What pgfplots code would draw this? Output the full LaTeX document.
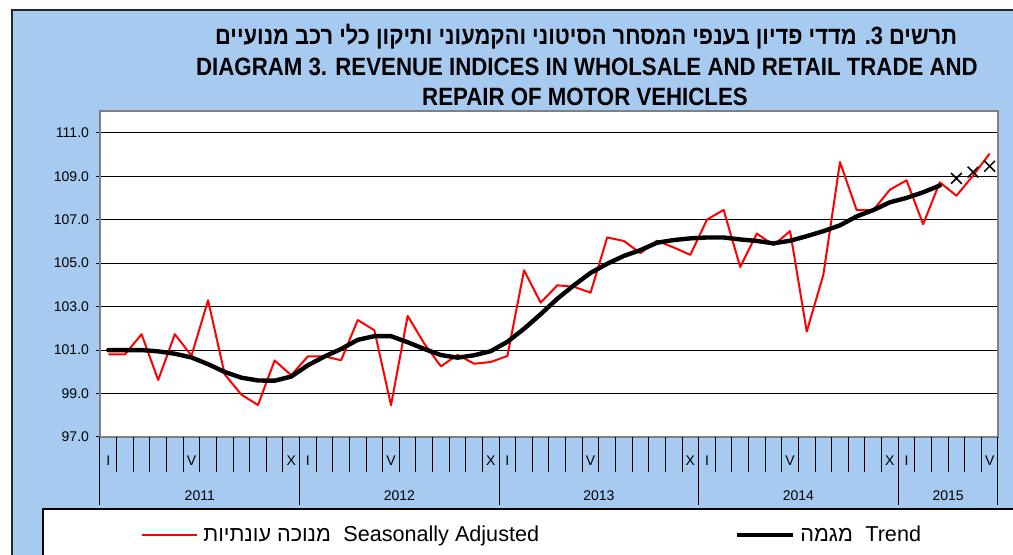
\documentclass[border=0pt]{standalone}
\usepackage{pgfplots}
\usepackage{pgfplotstable}
\pgfplotsset{compat=1.18}
\usepackage{fontspec}
\setmainfont{Liberation Sans}
\newfontfamily\hebfont[Script=Hebrew]{Liberation Sans}
\newfontfamily\titleheb[Script=Hebrew,FakeStretch=0.875]{Liberation Sans}
\newfontfamily\titlelat[FakeStretch=0.89]{Liberation Sans}
\TeXXeTstate=1
\definecolor{bgblue}{RGB}{166,202,240}

\pgfplotstableread{
x y
1 100.80
2 100.80
3 101.73
4 99.62
5 101.73
6 100.74
7 103.29
8 99.88
9 98.95
10 98.47
11 100.52
12 99.84
13 100.71
14 100.71
15 100.53
16 102.38
17 101.91
18 98.46
19 102.57
20 101.30
21 100.25
22 100.78
23 100.37
24 100.45
25 100.73
26 104.67
27 103.18
28 103.98
29 103.91
30 103.64
31 106.18
32 106.02
33 105.46
34 106.03
35 105.72
36 105.38
37 107.00
38 107.45
39 104.82
40 106.36
41 105.83
42 106.47
43 101.85
44 104.47
45 109.65
46 107.44
47 107.44
48 108.38
49 108.81
50 106.79
51 108.72
52 108.10
53 109.03
54 110.04
}\seasadj

\pgfplotstableread{
x y
1 101.00
2 101.00
3 101.00
4 100.94
5 100.83
6 100.66
7 100.35
8 99.99
9 99.73
10 99.60
11 99.59
12 99.78
13 100.30
14 100.70
15 101.05
16 101.47
17 101.64
18 101.64
19 101.36
20 101.05
21 100.77
22 100.65
23 100.76
24 100.95
25 101.38
26 101.98
27 102.65
28 103.36
29 103.98
30 104.55
31 104.97
32 105.33
33 105.60
34 105.94
35 106.06
36 106.14
37 106.18
38 106.18
39 106.09
40 106.02
41 105.91
42 106.03
43 106.24
44 106.47
45 106.74
46 107.15
47 107.44
48 107.80
49 108.00
50 108.26
51 108.57
}\trend

\pgfplotstableread{
x y
52 108.90
53 109.19
54 109.46
}\trendfc

\begin{document}
\begin{tikzpicture}[x=0.5pt,y=0.5pt]
\useasboundingbox (0,0) rectangle (1013,555);
% chart background
\fill[bgblue] (12,0) rectangle (1013,545);
\draw[line width=0.8pt, black!85] (12,0) -- (12,545) -- (1013,545);
% legend box
\fill[white] (43,0) rectangle (1013,46);
\draw[line width=0.6pt, black] (43,0) -- (43,46) -- (1013,46);

% titles
\node[anchor=base, inner sep=0pt, font=\titleheb\bfseries\fontsize{12.5}{14}\selectfont] at (586,510)
  {\beginR תרשים \beginL3\endL. מדדי פדיון בענפי המסחר הסיטוני והקמעוני ותיקון כלי רכב מנועיים\endR};
\node[anchor=base, inner sep=0pt, font=\titlelat\bfseries\fontsize{12.5}{14}\selectfont] at (587,479)
  {DIAGRAM 3. REVENUE INDICES IN WHOLSALE AND RETAIL TRADE AND};
\node[anchor=base, inner sep=0pt, font=\titlelat\bfseries\fontsize{12.5}{14}\selectfont] at (585,449)
  {REPAIR OF MOTOR VEHICLES};

% legend
\draw[red, line width=1pt] (142,20) -- (197,20);
\node[anchor=base west, inner sep=0pt, font=\hebfont\fontsize{10.8}{12}\selectfont] at (203,13)
  {\beginR מנוכה עונתיות\endR};
\node[anchor=base west, inner sep=0pt, font=\fontsize{10.8}{12}\selectfont] at (343,13)
  {Seasonally Adjusted};
\draw[black, line width=2.2pt] (737,20) -- (793,20);
\node[anchor=base west, inner sep=0pt, font=\hebfont\fontsize{10.8}{12}\selectfont] at (800,13)
  {\beginR מגמה\endR};
\node[anchor=base west, inner sep=0pt, font=\fontsize{10.8}{12}\selectfont] at (865,13)
  {Trend};

\begin{axis}[
  at={(50pt,59pt)}, anchor=south west,
  scale only axis, width=449pt, height=163pt,
  xmin=0.5, xmax=54.5, ymin=97, ymax=112,
  clip=false,
  axis background/.style={fill=white},
  axis line style={draw=gray, line width=0.8pt},
  xtick pos=bottom, ytick pos=left,
  ytick={97,99,...,111},
  yticklabel={\pgfmathprintnumber[fixed,fixed zerofill,precision=1]{\tick}},
  /pgf/number format/assume math mode=true,
  ymajorgrids, grid style={black, line width=0.5pt},
  tick align=outside, major tick length=2pt,
  ytick style={black, line width=0.5pt},
  y tick label style={font=\fontsize{7}{8}\selectfont},
  xtick={1,6,12,13,18,24,25,30,36,37,42,48,49,54},
  xticklabels={I,V,X,I,V,X,I,V,X,I,V,X,I,V},
  xtick style={draw=none},
  x tick label style={font=\fontsize{7}{8}\selectfont, anchor=base, yshift=-12.5pt},
  extra x ticks={0.5,1.5,...,54.5},
  extra x tick labels={},
  extra x tick style={xtick pos=bottom, xtick style={draw=black, line width=0.5pt}, major tick length=17.5pt},
]
\addplot[red, line width=1pt, line join=round] table[x=x,y=y] {\seasadj};
\addplot[black, line width=2.2pt, line join=round, line cap=round] table[x=x,y=y] {\trend};
\addplot[black, only marks, mark=x, mark size=3.8pt, mark options={line width=0.75pt}] table[x=x,y=y] {\trendfc};
\pgfplotsinvokeforeach{0.5,12.5,24.5,36.5,48.5,54.5}{
  \draw[black, line width=0.5pt] (axis cs:#1,97) -- ++(0pt,-34pt);
}
\node[anchor=base, inner sep=0pt, font=\fontsize{7}{8}\selectfont] at (axis cs:6.5,97) [yshift=-32pt] {2011};
\node[anchor=base, inner sep=0pt, font=\fontsize{7}{8}\selectfont] at (axis cs:18.5,97) [yshift=-32pt] {2012};
\node[anchor=base, inner sep=0pt, font=\fontsize{7}{8}\selectfont] at (axis cs:30.5,97) [yshift=-32pt] {2013};
\node[anchor=base, inner sep=0pt, font=\fontsize{7}{8}\selectfont] at (axis cs:42.5,97) [yshift=-32pt] {2014};
\node[anchor=base, inner sep=0pt, font=\fontsize{7}{8}\selectfont] at (axis cs:51.5,97) [yshift=-32pt] {2015};
\end{axis}
\end{tikzpicture}
\end{document}
